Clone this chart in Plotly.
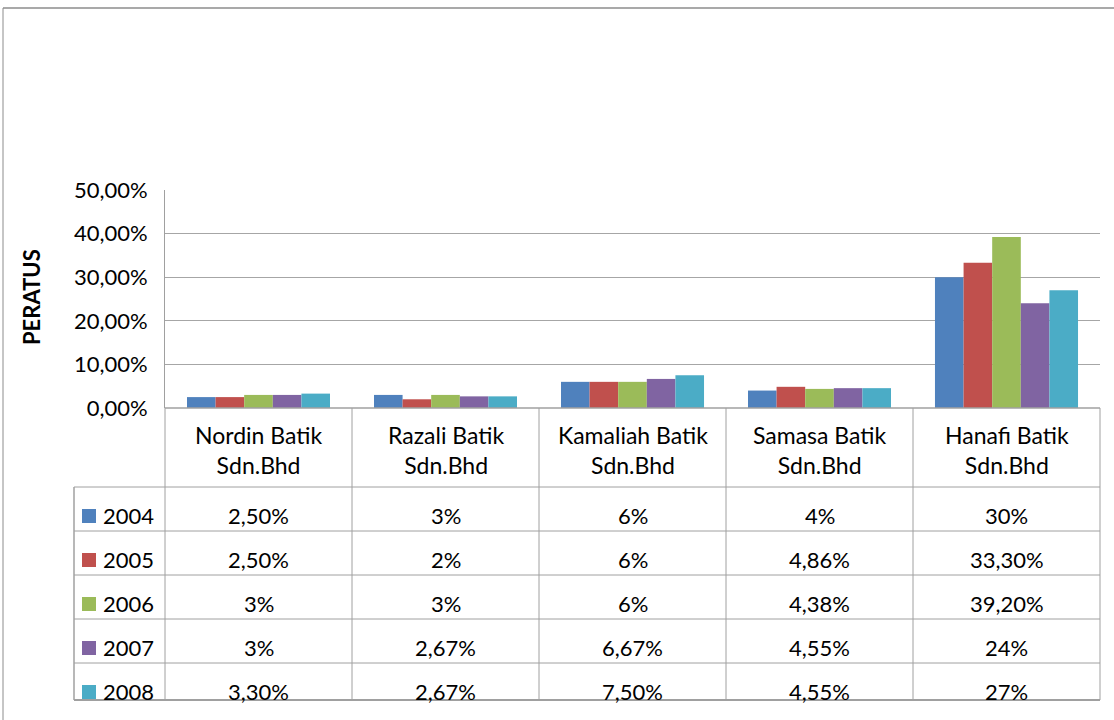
import plotly.graph_objects as go

W, H = 1114, 720

categories = ["Nordin Batik Sdn.Bhd", "Razali Batik Sdn.Bhd", "Kamaliah Batik Sdn.Bhd",
              "Samasa Batik Sdn.Bhd", "Hanafi Batik Sdn.Bhd"]
cat_labels = ["Nordin Batik<br>Sdn.Bhd", "Razali Batik<br>Sdn.Bhd", "Kamaliah Batik<br>Sdn.Bhd",
              "Samasa Batik<br>Sdn.Bhd", "Hanafi Batik<br>Sdn.Bhd"]
years = ["2004", "2005", "2006", "2007", "2008"]

v2004 = [2.5, 3, 6, 4, 30]
v2005 = [2.5, 2, 6, 4.86, 33.3]
v2006 = [3, 3, 6, 4.38, 39.2]
v2007 = [3, 2.67, 6.67, 4.55, 24]
v2008 = [3.3, 2.67, 7.5, 4.55, 27]

t2004 = ["2,50%", "3%", "6%", "4%", "30%"]
t2005 = ["2,50%", "2%", "6%", "4,86%", "33,30%"]
t2006 = ["3%", "3%", "6%", "4,38%", "39,20%"]
t2007 = ["3%", "2,67%", "6,67%", "4,55%", "24%"]
t2008 = ["3,30%", "2,67%", "7,50%", "4,55%", "27%"]

values = [v2004, v2005, v2006, v2007, v2008]
texts = [t2004, t2005, t2006, t2007, t2008]
colors = ["#4F81BD", "#C0504D", "#9BBB59", "#8064A2", "#4BACC6"]

FONT = "Lato"
FS = 22
FS_CAT = 23
GRID = "#a6a6a6"
LINE = "#a0a0a0"

# pixel layout
PX0, PX1 = 165, 1100
PY_TOP, PY_BOT = 190, 408
LEG_X = 74
ROWS = [487, 531, 575, 619, 663, 700]

def px(x):
    return x / W

def py(y):
    return 1 - y / H

fig = go.Figure()
for yr, vals, col in zip(years, values, colors):
    fig.add_trace(go.Bar(x=categories, y=vals, name=yr, marker=dict(color=col, line=dict(width=0)),
                         showlegend=False, hoverinfo="skip"))

shapes = []
# outer border
shapes.append(dict(type="line", xref="paper", yref="paper", x0=px(3), x1=px(W), y0=py(8), y1=py(8),
                   line=dict(color="#8c8c8c", width=1.5)))
shapes.append(dict(type="line", xref="paper", yref="paper", x0=px(3), x1=px(3), y0=py(8), y1=py(H),
                   line=dict(color="#8c8c8c", width=1)))
# table horizontal lines
shapes.append(dict(type="line", xref="paper", yref="paper", x0=px(PX0), x1=px(PX1), y0=py(PY_BOT), y1=py(PY_BOT),
                   line=dict(color=LINE, width=1.5)))
for i, r in enumerate(ROWS):
    shapes.append(dict(type="line", xref="paper", yref="paper", x0=px(LEG_X), x1=px(PX1), y0=py(r), y1=py(r),
                       line=dict(color=LINE, width=2 if i == len(ROWS) - 1 else 1)))
ncat = len(categories)
for k in range(ncat + 1):
    x = PX0 + (PX1 - PX0) * k / ncat
    shapes.append(dict(type="line", xref="paper", yref="paper", x0=px(x), x1=px(x), y0=py(PY_BOT), y1=py(ROWS[-1]),
                       line=dict(color=LINE, width=1)))
shapes.append(dict(type="line", xref="paper", yref="paper", x0=px(LEG_X), x1=px(LEG_X), y0=py(ROWS[0]), y1=py(ROWS[-1]),
                   line=dict(color=LINE, width=1.5)))
for i, col in enumerate(colors):
    cy = ROWS[i] + 29
    shapes.append(dict(type="rect", xref="paper", yref="paper", x0=px(82), x1=px(96), y0=py(cy - 7), y1=py(cy + 7),
                       fillcolor=col, line=dict(width=0)))

annotations = []
annotations.append(dict(text="<b>PERATUS</b>", x=px(31), y=py(297), xref="paper", yref="paper",
                        xanchor="center", yanchor="middle",
                        textangle=-90, showarrow=False, font=dict(family=FONT, size=FS, color="black")))
for c, lab in zip(categories, cat_labels):
    annotations.append(dict(text=lab, x=c, y=py(450), xref="x", yref="paper", showarrow=False,
                            xanchor="center", font=dict(family=FONT, size=FS_CAT, color="black"), align="center",
                            yanchor="middle"))
for i, (yr, trow) in enumerate(zip(years, texts)):
    cy = ROWS[i] + 28
    annotations.append(dict(text=yr, x=px(101), y=py(cy), xref="paper", yref="paper", showarrow=False,
                            xanchor="left", yanchor="middle", font=dict(family=FONT, size=FS, color="black")))
    for c, t in zip(categories, trow):
        annotations.append(dict(text=t, x=c, y=py(cy), xref="x", yref="paper", showarrow=False,
                                xanchor="center", yanchor="middle", font=dict(family=FONT, size=FS, color="black")))

fig.update_layout(
    width=W, height=H, autosize=False,
    margin=dict(l=0, r=0, t=0, b=0, pad=0, autoexpand=False),
    paper_bgcolor="white", plot_bgcolor="white",
    separators=", ",
    barmode="group", bargap=0.235, bargroupgap=0,
    xaxis=dict(domain=[px(PX0), px(PX1)], showticklabels=False, showgrid=False, zeroline=False,
               showline=False, ticks="", fixedrange=True, automargin=False),
    yaxis=dict(domain=[py(PY_BOT), py(PY_TOP)], range=[0, 50], dtick=10, tickformat=".2f", ticksuffix="%",
               showgrid=True, gridcolor=GRID, gridwidth=1, zeroline=False, fixedrange=True, automargin=False,
               showline=True, linecolor=LINE, linewidth=1, ticks="", ticklabelstandoff=12,
               tickfont=dict(family=FONT, size=FS, color="black")),
    shapes=shapes, annotations=annotations,
)

fig.write_html("out.html", config={"displayModeBar": False},
               post_script="document.body.style.margin='0';document.body.style.overflow='hidden';")
